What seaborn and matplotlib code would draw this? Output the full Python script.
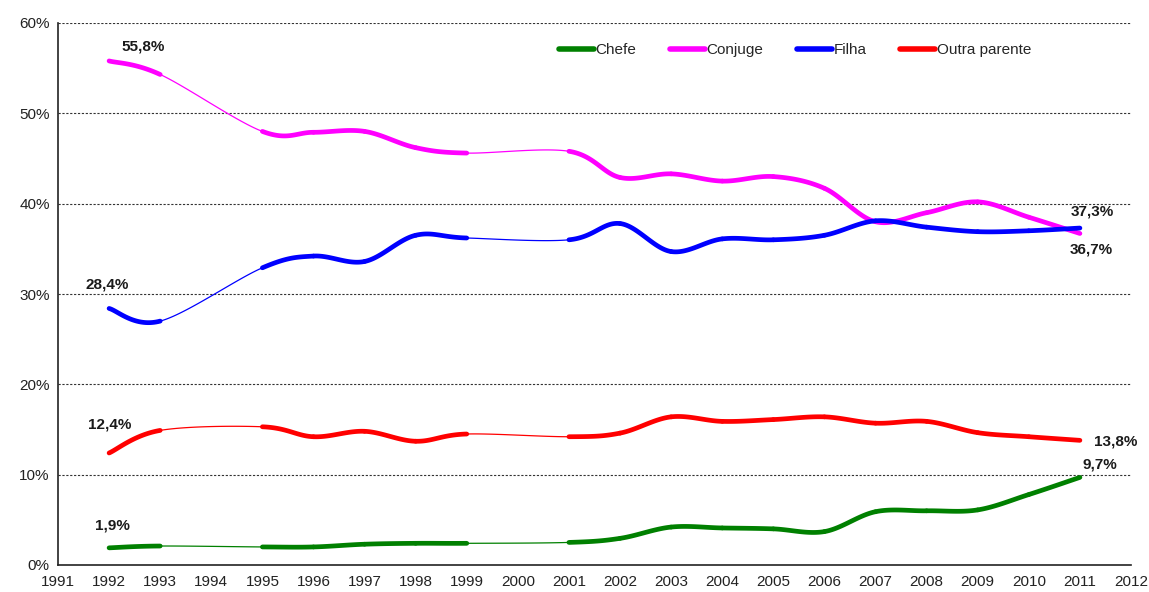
import numpy as np
import pandas as pd
import matplotlib
matplotlib.use("Agg")
import matplotlib.pyplot as plt
import seaborn as sns
from matplotlib.lines import Line2D

sns.set_style("white")
plt.rcParams['font.family'] = ['Liberation Sans', 'DejaVu Sans']

years = [1992, 1993, 1995, 1996, 1997, 1998, 1999, 2001, 2002, 2003, 2004, 2005, 2006, 2007, 2008, 2009, 2010, 2011]
chefe = [1.9, 2.1, 2.0, 2.0, 2.3, 2.4, 2.4, 2.5, 2.95, 4.2, 4.1, 4.0, 3.7, 5.9, 6.0, 6.1, 7.8, 9.7]
conjuge = [55.8, 54.3, 48.0, 47.9, 48.0, 46.2, 45.6, 45.8, 42.9, 43.3, 42.5, 43.0, 41.7, 38.0, 39.0, 40.2, 38.5, 36.7]
filha = [28.4, 27.0, 32.9, 34.2, 33.6, 36.5, 36.2, 36.0, 37.8, 34.7, 36.1, 36.0, 36.5, 38.1, 37.4, 36.9, 37.0, 37.3]
outra = [12.4, 14.9, 15.3, 14.2, 14.8, 13.7, 14.5, 14.2, 14.6, 16.4, 15.9, 16.1, 16.4, 15.7, 15.9, 14.65, 14.2, 13.8]

series_names = ["Chefe", "Conjuge", "Filha", "Outra parente"]
series_vals = [chefe, conjuge, filha, outra]
colors = ["#008000", "#FF00FF", "#0000FF", "#FF0000"]

labels_text = ["55,8%", "28,4%", "12,4%", "1,9%", "37,3%", "36,7%", "13,8%", "9,7%"]
labels_x = [1992.66, 1991.96, 1992.02, 1992.06, 2011.25, 2011.23, 2011.7, 2011.4]
labels_y = [57.4, 31.0, 15.5, 4.4, 39.1, 34.9, 13.7, 11.1]


def smooth_segment(xs, ys, i, n=40):
    # Excel-style smoothed line (cardinal spline as cubic Bezier)
    m = len(xs)
    p0 = np.array([xs[max(i - 1, 0)], ys[max(i - 1, 0)]], float)
    p1 = np.array([xs[i], ys[i]], float)
    p2 = np.array([xs[i + 1], ys[i + 1]], float)
    p3 = np.array([xs[min(i + 2, m - 1)], ys[min(i + 2, m - 1)]], float)
    b1 = p1 + (p2 - p0) / 6.0
    b2 = p2 - (p3 - p1) / 6.0
    t = np.linspace(0, 1, n)[:, None]
    pts = ((1 - t) ** 3) * p1 + 3 * ((1 - t) ** 2) * t * b1 + 3 * (1 - t) * t ** 2 * b2 + t ** 3 * p2
    return pts[:, 0], pts[:, 1]


fig = plt.figure(figsize=(11.49, 5.92), dpi=100)
ax = fig.add_axes([58 / 1149, 1 - 565 / 592, (1131 - 58) / 1149, (565 - 23) / 592])

for name, vals, col in zip(series_names, series_vals, colors):
    for i in range(len(years) - 1):
        sx, sy = smooth_segment(years, vals, i)
        df = pd.DataFrame({"x": sx, "y": sy})
        thick = (years[i + 1] - years[i]) == 1
        sns.lineplot(data=df, x="x", y="y", ax=ax, color=col, sort=False, estimator=None,
                     linewidth=3.4 if thick else 0.9, legend=False,
                     solid_capstyle="round" if thick else "butt")

for t, x, y in zip(labels_text, labels_x, labels_y):
    ax.text(x, y, t, ha="center", va="center", fontsize=11, fontweight="bold", color="#1a1a1a")

ax.set_xlim(1991, 2012)
ax.set_ylim(0, 60)
ax.set_xticks(range(1991, 2013))
ax.set_yticks(range(0, 61, 10))
ax.set_yticklabels([f"{v}%" for v in range(0, 61, 10)])
ax.set_xlabel("")
ax.set_ylabel("")
ax.tick_params(axis="both", labelsize=11, colors="#222222", direction="out", length=4, width=1)
ax.tick_params(axis="both", labelcolor="#222222")
ax.tick_params(axis="y", pad=2)
for y in range(10, 61, 10):
    ax.axhline(y, color="#333333", linestyle=(0, (2, 1.5)), linewidth=0.8, zorder=0)
for s in ["top", "right"]:
    ax.spines[s].set_visible(False)
for s in ["left", "bottom"]:
    ax.spines[s].set_color("#222222")
    ax.spines[s].set_linewidth(1.2)

handles = [Line2D([0], [0], color=c, lw=4) for c in colors]
fig.legend(handles, series_names, loc="center", bbox_to_anchor=(795 / 1149, 1 - 50 / 592),
           ncol=4, frameon=False, fontsize=11, handlelength=2.3, handletextpad=0.1,
           columnspacing=2.2)

fig.savefig("out.png", dpi=100)
